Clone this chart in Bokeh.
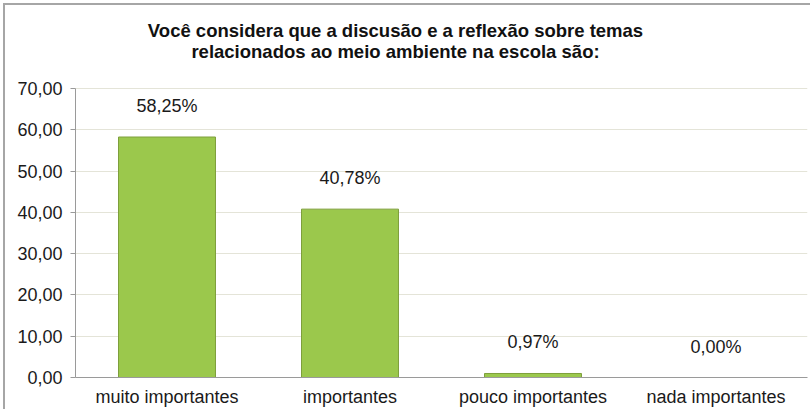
from bokeh.plotting import figure
from bokeh.models import ColumnDataSource, FixedTicker, Label, FactorRange, Range1d
from bokeh.core.properties import value
from bokeh.embed import file_html
from bokeh.resources import INLINE

categories = ["muito importantes", "importantes", "pouco importantes", "nada importantes"]
values = [58.25, 40.78, 0.97, 0.00]
value_labels = ["58,25%", "40,78%", "0,97%", "0,00%"]
y_ticks = [0, 10, 20, 30, 40, 50, 60, 70]
y_tick_labels = ["0,00", "10,00", "20,00", "30,00", "40,00", "50,00", "60,00", "70,00"]
title_lines = ["Você considera que a discusão e a reflexão sobre temas",
               "relacionados ao meio ambiente na escola são:"]

FONT = "Liberation Sans"
Y_MAX = 70
PLOT_H = 289      # pixel height of the 0..70 band
TOP_SPACE = 83    # pixels above it, kept inside the frame for the title

source = ColumnDataSource(dict(cat=categories, val=values, lab=value_labels))

p = figure(frame_width=732, frame_height=PLOT_H + TOP_SPACE, output_backend="svg",
           toolbar_location=None,
           x_range=FactorRange(*categories, range_padding=0),
           y_range=Range1d(0, Y_MAX * (PLOT_H + TOP_SPACE) / PLOT_H),
           min_border_left=70, min_border_right=3, min_border_top=0, min_border_bottom=20)
p.styles = {"margin-top": "3px", "margin-left": "3px",
            "border-top": "2px solid #a6a6a6", "border-left": "2px solid #a6a6a6"}

p.vbar(x="cat", top="val", width=0.53, source=source,
       fill_color="#9BC84C", line_color="#7E9F3C", line_width=1)

p.text(x="cat", y="val", text="lab", source=source, text_align="center",
       text_baseline="middle", y_offset=-31, text_font=value(FONT),
       text_font_size="18px", text_color="#1a1a1a")

# axes
p.yaxis.ticker = FixedTicker(ticks=y_ticks)
p.yaxis.bounds = (0, Y_MAX)
p.yaxis.major_label_overrides = {t: l for t, l in zip(y_ticks, y_tick_labels)}
p.yaxis.major_label_text_font = FONT
p.yaxis.major_label_text_font_size = "18px"
p.yaxis.major_label_text_color = "#1a1a1a"
p.yaxis.axis_line_color = "#9a9a9a"
p.yaxis.major_tick_line_color = "#9a9a9a"
p.yaxis.major_tick_out = 5
p.yaxis.major_tick_in = 0
p.yaxis.minor_tick_line_color = None
p.yaxis.major_label_standoff = 8

p.xaxis.major_label_text_font = FONT
p.xaxis.major_label_text_font_size = "18px"
p.xaxis.major_label_text_color = "#1a1a1a"
p.xaxis.axis_line_color = "#9a9a9a"
p.xaxis.major_tick_line_color = None
p.xaxis.minor_tick_line_color = None
p.xaxis.major_label_standoff = 3

p.xgrid.grid_line_color = None
p.ygrid.grid_line_color = "#e4e4d8"
p.outline_line_color = None

# title lines, screen units from the frame's bottom-left corner
for i, line in enumerate(title_lines):
    p.add_layout(Label(x=320, y=347 - i * 21, x_units="screen", y_units="screen",
                       text=line, text_align="center", text_baseline="middle",
                       text_font=FONT, text_font_size="18.5px", text_font_style="bold",
                       text_color="#111111"))

open("out.html", "w").write(file_html(p, INLINE))
